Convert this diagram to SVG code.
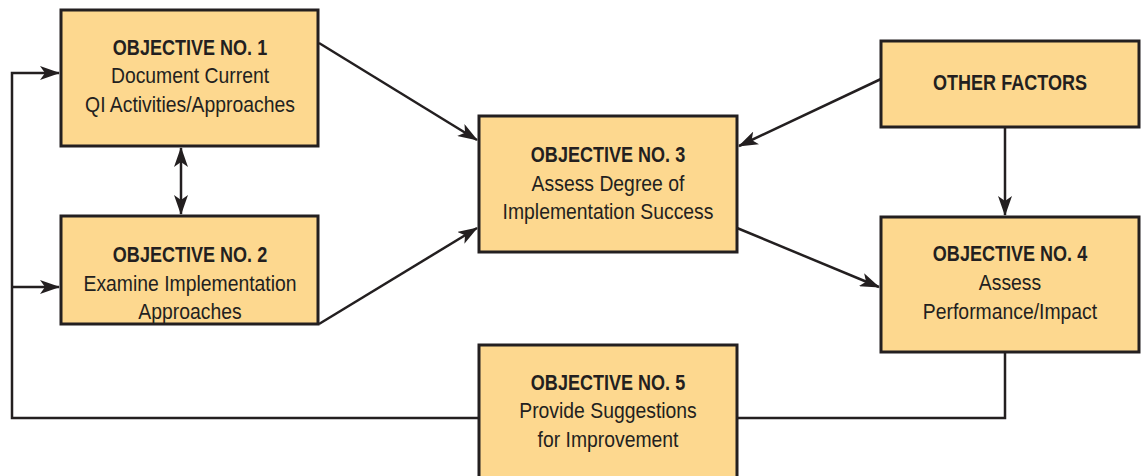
<svg xmlns="http://www.w3.org/2000/svg" width="1144" height="476" viewBox="0 0 1144 476">
<style>
.box{fill:#FDD88F;stroke:#231F20;stroke-width:3}
.t{font-family:"Liberation Sans",Arial,sans-serif;font-size:22px;fill:#231F20;text-anchor:middle}
.b{font-weight:bold}
.c{fill:none;stroke:#231F20;stroke-width:2.5}
</style>
<defs>
<marker id="ah" viewBox="0 0 20 14" refX="19" refY="7" markerWidth="20" markerHeight="14" markerUnits="userSpaceOnUse" orient="auto-start-reverse">
<path d="M0,0 L20,7 L0,14 L5,7 Z" fill="#231F20"/>
</marker>
</defs>
<g id="connectors">
<polyline class="c" points="479,418 12,418 12,73 59,73" marker-end="url(#ah)"/>
<line class="c" x1="12" y1="287" x2="59" y2="287" marker-end="url(#ah)"/>
<line class="c" x1="181" y1="148" x2="181" y2="214" marker-start="url(#ah)" marker-end="url(#ah)"/>
<line class="c" x1="319" y1="43" x2="477" y2="140" marker-end="url(#ah)"/>
<line class="c" x1="319" y1="324" x2="477" y2="228" marker-end="url(#ah)"/>
<line class="c" x1="881" y1="79" x2="739" y2="146" marker-end="url(#ah)"/>
<line class="c" x1="737" y1="228" x2="879" y2="287" marker-end="url(#ah)"/>
<line class="c" x1="1005" y1="127" x2="1005" y2="215" marker-end="url(#ah)"/>
<polyline class="c" points="1005,352 1005,418 737,418"/>
</g>
<g id="obj1">
<rect class="box" x="61" y="10" width="257" height="136"/>
<text class="t b" transform="translate(190 55) scale(0.82 1)">OBJECTIVE NO. 1</text>
<text class="t" transform="translate(190 83) scale(0.88 1)">Document Current</text>
<text class="t" transform="translate(190 112) scale(0.88 1)">QI Activities/Approaches</text>
</g>
<g id="obj2">
<rect class="box" x="61" y="216" width="257" height="108"/>
<text class="t b" transform="translate(190 262) scale(0.82 1)">OBJECTIVE NO. 2</text>
<text class="t" transform="translate(190 291) scale(0.88 1)">Examine Implementation</text>
<text class="t" transform="translate(190 319) scale(0.88 1)">Approaches</text>
</g>
<g id="obj3">
<rect class="box" x="479" y="116" width="258" height="136"/>
<text class="t b" transform="translate(608 162) scale(0.82 1)">OBJECTIVE NO. 3</text>
<text class="t" transform="translate(608 191) scale(0.88 1)">Assess Degree of</text>
<text class="t" transform="translate(608 219) scale(0.88 1)">Implementation Success</text>
</g>
<g id="other">
<rect class="box" x="881" y="41" width="258" height="86"/>
<text class="t b" transform="translate(1010 90) scale(0.82 1)">OTHER FACTORS</text>
</g>
<g id="obj4">
<rect class="box" x="881" y="217" width="258" height="135"/>
<text class="t b" transform="translate(1010 261) scale(0.82 1)">OBJECTIVE NO. 4</text>
<text class="t" transform="translate(1010 290) scale(0.88 1)">Assess</text>
<text class="t" transform="translate(1010 319) scale(0.88 1)">Performance/Impact</text>
</g>
<g id="obj5">
<rect class="box" x="479" y="345" width="258" height="140"/>
<text class="t b" transform="translate(608 390) scale(0.82 1)">OBJECTIVE NO. 5</text>
<text class="t" transform="translate(608 418) scale(0.88 1)">Provide Suggestions</text>
<text class="t" transform="translate(608 447) scale(0.88 1)">for Improvement</text>
</g>
</svg>
